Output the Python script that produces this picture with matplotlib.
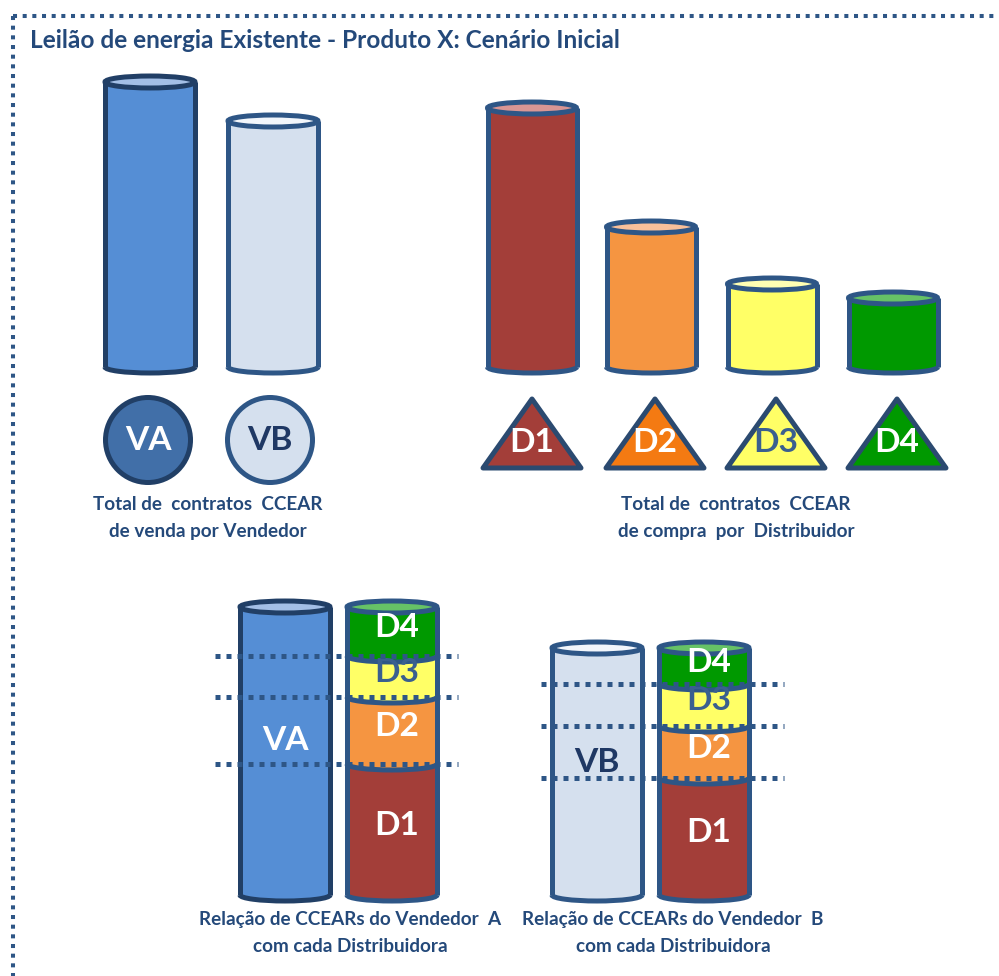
import matplotlib
matplotlib.use('Agg')
import matplotlib.pyplot as plt
from matplotlib import font_manager
from matplotlib.patches import Rectangle, Ellipse, Arc, Circle, Polygon

# ---- data (pixel heights of the cylinders) ----
sellers = ['VA', 'VB']
seller_totals = [285, 246]
distributors = ['D1', 'D2', 'D3', 'D4']
dist_totals = [259, 140, 83, 69]
split_va = [131, 67, 41, 49]   # D1..D4 share of seller A (bottom to top)
split_vb = [117, 52, 42, 36]   # D1..D4 share of seller B

title = 'Leilão de energia Existente - Produto X: Cenário Inicial'
cap_sellers = ['Total de  contratos  CCEAR', 'de venda por Vendedor']
cap_dists = ['Total de  contratos  CCEAR', 'de compra  por  Distribuidor']
cap_a = ['Relação de CCEARs do Vendedor  A', 'com cada Distribuidora']
cap_b = ['Relação de CCEARs do Vendedor  B', 'com cada Distribuidora']

# ---- styling ----
NAVY = '#24497A'
EDGE = '#2E5686'
EDGE_DARK = '#213F66'
seller_face = {'VA': '#558ED5', 'VB': '#D5E0EE'}
seller_top = {'VA': '#A3BFE6', 'VB': '#F2F6FB'}
seller_edge = {'VA': EDGE_DARK, 'VB': EDGE}
dist_face = {'D1': '#A33E39', 'D2': '#F59541', 'D3': '#FFFF66', 'D4': '#009900'}
dist_top = {'D1': '#D99694', 'D2': '#F9C09A', 'D3': '#FFFFB3', 'D4': '#66C266'}
tri_face = {'D1': '#A33E39', 'D2': '#F47A12', 'D3': '#FFFF66', 'D4': '#009900'}
label_color = {'VA': 'white', 'VB': '#1F3864', 'D1': 'white', 'D2': 'white',
               'D3': '#3A5F8F', 'D4': 'white'}

available = {f.name for f in font_manager.fontManager.ttflist}
fams = [f for f in ['Liberation Sans Narrow', 'Lato', 'DejaVu Sans'] if f in available]
plt.rcParams['font.family'] = fams
plt.rcParams['font.weight'] = 'bold'

fig = plt.figure(figsize=(9.99, 9.76), dpi=100)
ax = fig.add_axes([0, 0, 1, 1])
ax.set_xlim(0, 999)
ax.set_ylim(976, 0)
ax.axis('off')
renderer = fig.canvas.get_renderer()

LW = 3.6
EH = 12


def fit_size(s, width, size0=20):
    t = ax.text(0, 0, s, fontsize=size0, fontweight='bold')
    w = t.get_window_extent(renderer).width
    t.remove()
    return size0 * width / w


def draw_stack(xc, base, heights, faces, top_face, edge, width=90):
    y = base
    for i, (h, f) in enumerate(zip(heights, faces)):
        z = 2 + i * 0.1
        ax.add_patch(Rectangle((xc - width / 2, y - h), width, h, facecolor=f,
                               edgecolor='none', zorder=z))
        ax.add_patch(Ellipse((xc, y), width, EH, facecolor=f, edgecolor='none', zorder=z))
        ax.add_patch(Arc((xc, y), width, EH, theta1=0, theta2=180, color=edge,
                         lw=LW, zorder=z + 0.05))
        y -= h
    for x in (xc - width / 2, xc + width / 2):
        ax.plot([x, x], [y, base], color=edge, lw=LW, solid_capstyle='butt', zorder=3)
    ax.add_patch(Ellipse((xc, y), width, EH, facecolor=top_face, edgecolor=edge,
                         lw=LW, zorder=3.1))
    return y


big = fit_size('VA', 38) * 1.22
cap = fit_size(cap_sellers[0], 229)

# title and dotted frame
ax.text(30, 40, title, fontsize=fit_size(title, 590), color=NAVY, va='center', ha='left')
ax.plot([13, 999], [16, 16], color=EDGE, lw=2.9, linestyle=(0, (1, 1.4)))
ax.plot([13, 13], [16, 976], color=EDGE, lw=2.9, linestyle=(0, (1, 1.4)))

# top row: seller cylinders and circles
seller_x = [150, 273]
circle_x = [148, 270]
for name, total, xc, cx in zip(sellers, seller_totals, seller_x, circle_x):
    draw_stack(xc, 367, [total], [seller_face[name]], seller_top[name], seller_edge[name])
    circ_face = '#416FA8' if name == 'VA' else seller_face[name]
    ax.add_patch(Circle((cx, 440), 42.5, facecolor=circ_face, edgecolor=seller_edge[name],
                        lw=LW, zorder=3))
    ax.text(cx, 441, name, fontsize=big, color=label_color[name], ha='center',
            va='center', zorder=4)
for i, line in enumerate(cap_sellers):
    ax.text(208, 505 + 26 * i, line, fontsize=cap, color=NAVY, ha='center', va='center')

# top row: distributor cylinders and triangles
dist_x = [532, 651, 772, 893]
tri_x = [532, 655, 776, 897]
for name, total, xc, tx in zip(distributors, dist_totals, dist_x, tri_x):
    draw_stack(xc, 367, [total], [dist_face[name]], dist_top[name], EDGE, width=89)
    ax.add_patch(Polygon([(tx - 49, 468), (tx, 399), (tx + 49, 468)], closed=True,
                         facecolor=tri_face[name], edgecolor='#2B4A70', lw=LW,
                         joinstyle='round', zorder=3))
    ax.text(tx, 443, name, fontsize=big, color=label_color[name], ha='center',
            va='center', zorder=4)
for i, line in enumerate(cap_dists):
    ax.text(736, 505 + 26 * i, line, fontsize=cap, color=NAVY, ha='center', va='center')

# bottom row: seller vs split by distributor
groups = [('VA', split_va, 285, 392, 215, 458, cap_a, 350),
          ('VB', split_vb, 597, 704, 541, 784, cap_b, 673)]
for name, split, xs, xd, x0, x1, caps, xcap in groups:
    total = sum(split)
    top = draw_stack(xs, 895, [total], [seller_face[name]], seller_top[name], seller_edge[name])
    ax.text(xs, top + total * 0.465, name, fontsize=big, color=label_color[name],
            ha='center', va='center', zorder=4)
    draw_stack(xd, 895, split, [dist_face[d] for d in distributors], dist_top['D4'], EDGE)
    y = 895
    for d, h in zip(distributors, split):
        ax.text(xd + 5, y - h / 2 - 4, d, fontsize=big, color=label_color[d],
                ha='center', va='center', zorder=4)
        y -= h
        if d != 'D4':
            ax.plot([x0, x1], [y, y], color=EDGE, lw=3.6, linestyle=(0, (1, 1.2)), zorder=5)
    for i, line in enumerate(caps):
        ax.text(xcap, 920 + 26 * i, line, fontsize=cap, color=NAVY, ha='center', va='center')

fig.savefig('out.png', dpi=100)
